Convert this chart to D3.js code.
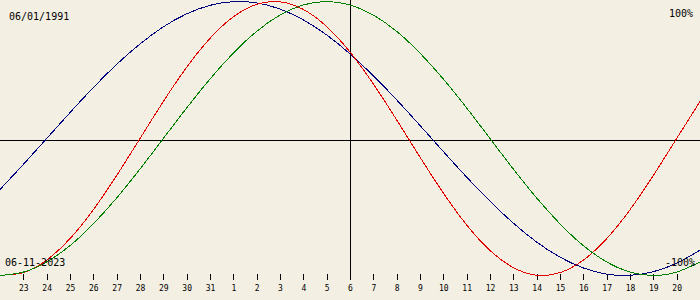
<!DOCTYPE html>
<html>
<head>
<meta charset="utf-8">
<script src="https://cdn.jsdelivr.net/npm/d3@7"></script>
<style>
  html, body { margin: 0; padding: 0; background: #f3efe3; }
  svg { display: block; }
  .lbl { font-family: "DejaVu Sans Mono", monospace; font-size: 10px; fill: #000; }
  .axis text { font-family: "DejaVu Sans Mono", monospace; font-size: 8px; fill: #000; }
</style>
</head>
<body>
<div id="chart"></div>
<script>
// Chart size
var svgWidth = 700;
var svgHeight = 300;

// Days relative to the centre date (06-11-2023), one point per day
var days = d3.range(-15, 16);
// Day-of-month labels for the ticks (23 Oct .. 20 Nov)
var tickDays = d3.range(-14, 15);
var tickLabels = [23, 24, 25, 26, 27, 28, 29, 30, 31, 1, 2, 3, 4, 5, 6, 7, 8, 9, 10,
  11, 12, 13, 14, 15, 16, 17, 18, 19, 20];

// Series values in percent
var physical = [-99.8, -97.9, -88.8, -73.1, -52.0, -27.0, 0, 27.0, 52.0, 73.1, 88.8, 97.9,
  99.8, 94.2, 81.7, 63.1, 39.8, 13.6, -13.6, -39.8, -63.1, -81.7, -94.2, -99.8, -97.9,
  -88.8, -73.1, -52.0, -27.0, 0, 27.0];
var emotional = [-100, -97.5, -90.1, -78.2, -62.3, -43.4, -22.3, 0, 22.3, 43.4, 62.3, 78.2,
  90.1, 97.5, 100, 97.5, 90.1, 78.2, 62.3, 43.4, 22.3, 0, -22.3, -43.4, -62.3, -78.2,
  -90.1, -97.5, -100, -97.5, -90.1];
var intellectual = [-37.2, -18.9, 0, 18.9, 37.2, 54.1, 69.0, 81.5, 91.0, 97.2, 99.9, 99.0,
  94.5, 86.6, 75.6, 61.8, 45.8, 28.2, 9.5, -9.5, -28.2, -45.8, -61.8, -75.6, -86.6,
  -94.5, -99.0, -99.9, -97.2, -91.0, -81.5];

var series = [
  { values: intellectual, color: "#000080" },
  { values: physical, color: "#e00000" },
  { values: emotional, color: "#008000" }
];

var svg = d3.select("#chart")
  .append("svg")
  .attr("width", svgWidth)
  .attr("height", svgHeight);

svg.append("rect")
  .attr("width", svgWidth)
  .attr("height", svgHeight)
  .attr("fill", "#f3efe3");

// Scales
var xScale = d3.scaleLinear().domain([-15, 15]).range([0, svgWidth]);
var yScale = d3.scaleLinear().domain([-100, 100]).range([275.5, 1.5]);

// Zero line and today line
svg.append("line")
  .attr("x1", 0).attr("x2", svgWidth)
  .attr("y1", 140.5).attr("y2", 140.5)
  .attr("stroke", "#000")
  .attr("shape-rendering", "crispEdges");
svg.append("line")
  .attr("x1", xScale(0) + 0.5).attr("x2", xScale(0) + 0.5)
  .attr("y1", 0).attr("y2", 280)
  .attr("stroke", "#000")
  .attr("shape-rendering", "crispEdges");

// Day axis
var bottomAxis = d3.axisBottom(xScale)
  .tickValues(tickDays)
  .tickFormat((d, i) => tickLabels[i])
  .tickSize(6)
  .tickPadding(5);
var axisG = svg.append("g")
  .attr("class", "axis")
  .attr("transform", "translate(0, 274)")
  .call(bottomAxis);
axisG.select(".domain").remove();
axisG.selectAll("line")
  .attr("stroke", "#000")
  .attr("shape-rendering", "crispEdges");

// Curves
var lineGen = d3.line()
  .x((d, i) => xScale(days[i]))
  .y(d => yScale(d))
  .curve(d3.curveNatural);

svg.selectAll(".bio")
  .data(series)
  .enter()
  .append("path")
  .attr("class", "bio")
  .attr("d", d => lineGen(d.values))
  .attr("fill", "none")
  .attr("stroke", d => d.color)
  .attr("stroke-width", 1)
  .attr("shape-rendering", "crispEdges");

// Labels
svg.append("text").attr("class", "lbl")
  .attr("x", 9).attr("y", 20).text("06/01/1991");
svg.append("text").attr("class", "lbl")
  .attr("x", 693).attr("y", 17).attr("text-anchor", "end").text("100%");
svg.append("text").attr("class", "lbl")
  .attr("x", 5).attr("y", 266).text("06-11-2023");
svg.append("text").attr("class", "lbl")
  .attr("x", 695).attr("y", 266).attr("text-anchor", "end").text("-100%");
</script>
</body>
</html>
